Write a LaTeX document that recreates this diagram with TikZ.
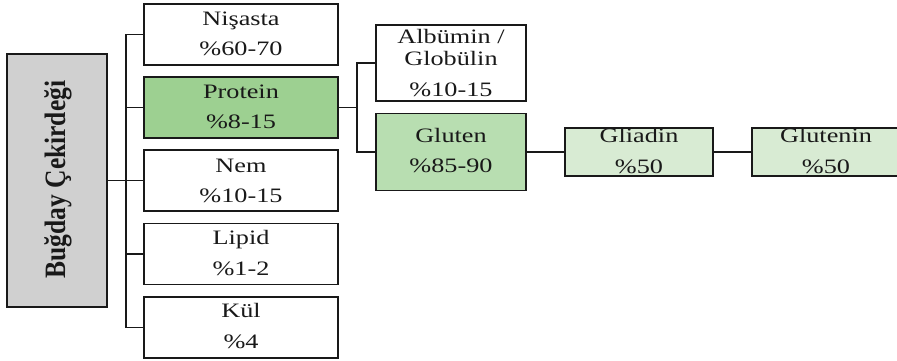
\documentclass[tikz,border=0pt]{standalone}
\usepackage{fontspec}
\setmainfont{Liberation Serif}[FakeStretch=1.28]
\newfontfamily\bugfont{Liberation Serif}
\definecolor{buggray}{RGB}{208,208,208}
\definecolor{protgreen}{RGB}{157,208,145}
\definecolor{glugreen}{RGB}{184,222,177}
\definecolor{gligreen}{RGB}{216,235,211}
\definecolor{ink}{RGB}{25,25,25}
\begin{document}
\begin{tikzpicture}[x=1pt,y=-1pt,
  box/.style={draw=ink, line width=1.4pt, inner sep=0pt, outer sep=0pt, rectangle},
  colone/.style={minimum width=194pt, minimum height=61pt},
  coltwo/.style={minimum width=150pt},
  colthree/.style={minimum width=148pt, minimum height=48pt, fill=gligreen},
  wire/.style={draw=ink, line width=1.3pt},
  txt/.style={anchor=base, inner sep=0pt, text=ink, font=\fontsize{20.5}{24}\selectfont},
]
\useasboundingbox (0,0) rectangle (897,360);

% root
\node[box, fill=buggray, minimum width=100pt, minimum height=253pt] (bug) at (57,180.5) {};
\node[rotate=90, anchor=base, inner sep=0pt, text=ink] (bugt) at (65,179.5)
  {\bugfont\bfseries\fontsize{25.5}{30}\selectfont\scalebox{1}[1.16]{Buğday Çekirdeği}};

% first column
\node[box, colone] (nis) at (241,34.5) {};
\node[box, colone, fill=protgreen] (prot) at (241,107.5) {};
\node[box, colone] (nem) at (241,180.5) {};
\node[box, colone] (lip) at (241,254) {};
\node[box, colone] (kul) at (241,327.5) {};

\node[txt] (nis1) at (241,25.5) {Nişasta};
\node[txt] (nis2) at (241,55.5) {\%60-70};
\node[txt] (prot1) at (241,98.5) {Protein};
\node[txt] (prot2) at (241,128.5) {\%8-15};
\node[txt] (nem1) at (241,172) {Nem};
\node[txt] (nem2) at (241,202.5) {\%10-15};
\node[txt] (lip1) at (241,244.5) {Lipid};
\node[txt] (lip2) at (241,275) {\%1-2};
\node[txt] (kul1) at (241,317.5) {Kül};
\node[txt] (kul2) at (241,348) {\%4};

% second column
\node[box, coltwo, minimum height=76pt] (alb) at (451,63) {};
\node[box, coltwo, minimum height=77pt, fill=glugreen] (glu) at (451,152) {};
\node[txt] (alb1) at (451,43) {Albümin /};
\node[txt] (alb2) at (451,65) {Globülin};
\node[txt] (alb3) at (451,96) {\%10-15};
\node[txt] (glu1) at (451,142) {Gluten};
\node[txt] (glu2) at (451,172) {\%85-90};

% third / fourth
\node[box, colthree] (gli) at (639,152) {};
\node[box, colthree] (glt) at (826,152) {};
\node[txt] (gli1) at (639,142) {Gliadin};
\node[txt] (gli2) at (639,173) {\%50};
\node[txt] (glt1) at (826,142) {Glutenin};
\node[txt] (glt2) at (826,173) {\%50};

% connectors
\coordinate (bus) at (126,180.5);
\draw[wire] (bug.east) -- (bus);
\foreach \n in {nis,prot,nem,lip,kul}{\draw[wire] (bus) |- (\n.west);}
\coordinate (bustwo) at (357,107.5);
\draw[wire] (prot.east) -- (bustwo);
\draw[wire] (bustwo) |- (alb.west);
\draw[wire] (bustwo) |- (glu.west);
\draw[wire] (glu.east) -- (gli.west);
\draw[wire] (gli.east) -- (glt.west);
\end{tikzpicture}
\end{document}
